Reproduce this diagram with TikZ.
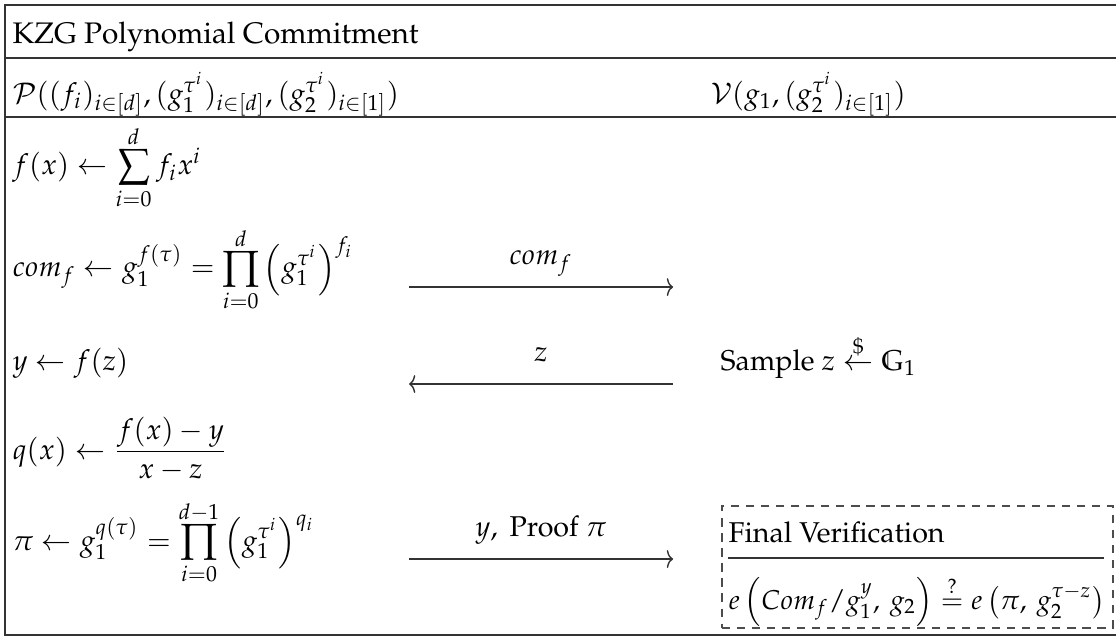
\documentclass[tikz,border=0pt]{standalone}
\usepackage[T1]{fontenc}
\usepackage{amsmath}
\usepackage{mathpazo}
\usetikzlibrary{arrows.meta}

\begin{document}
\begin{tikzpicture}[
    font=\fontsize{9.15pt}{11pt}\selectfont,
    % --- Frame and Rules ---
    rule/.style={line width=0.55pt, draw=black!80},
    % --- Protocol Steps ---
    row text/.style={anchor=base west, inner sep=0pt},
    % --- Messages ---
    msg arrow/.style={-{To[length=0.7mm, width=2mm]}, line width=0.45pt, draw=black!80},
    msg label/.style={midway, anchor=base, inner sep=0pt, yshift=0.25cm},
    % --- Verification Box ---
    check box/.style={draw=black!70, line width=0.5pt, dash pattern=on 2.6pt off 2.2pt,
        anchor=north west, inner sep=0pt}
]
    \useasboundingbox (0,0) rectangle (12.531,-7.153);

    % =========================================
    % 1. FRAME AND HEADER
    % =========================================
    \draw[rule] (12.531,-0.056) -- (0.056,-0.056) -- (0.056,-7.13) -- (12.531,-7.13);

    \node[row text, font=\fontsize{9.5pt}{11pt}\selectfont] (title) at (0.135,-0.483)
        {KZG Polynomial Commitment};
    \draw[rule] (0.056,-0.651) -- (12.531,-0.651);

    \node[row text] (prover) at (0.135,-1.157)
        {$\mathcal{P}((f_i)_{i\in[d]},(g_1^{\tau^i})_{i\in[d]},(g_2^{\tau^i})_{i\in[1]})$};
    \node[row text] (verifier) at (7.973,-1.157)
        {$\mathcal{V}(g_1,(g_2^{\tau^i})_{i\in[1]})$};
    \draw[rule] (0.056,-1.314) -- (12.531,-1.314);

    % =========================================
    % 2. PROVER STEPS
    % =========================================
    \node[row text] (fx) at (0.135,-1.965)
        {$\displaystyle f(x)\leftarrow\sum_{i=0}^{d} f_i x^i$};
    \node[row text] (com) at (0.135,-3.110)
        {$\displaystyle com_f\leftarrow g_1^{f(\tau)}=\prod_{i=0}^{d}\left(g_1^{\tau^i}\right)^{f_i}$};
    \node[row text] (yval) at (0.135,-4.155) {$y\leftarrow f(z)$};
    \node[row text] (qx) at (0.135,-5.154)
        {$\displaystyle q(x)\leftarrow\frac{f(x)-y}{x-z}$};
    \node[row text] (proof) at (0.135,-6.176)
        {$\displaystyle \pi\leftarrow g_1^{q(\tau)}=\prod_{i=0}^{d-1}\left(g_1^{\tau^i}\right)^{q_i}$};

    % =========================================
    % 3. MESSAGES
    % =========================================
    \coordinate (com send) at (4.593,-3.223);
    \coordinate (com recv) at (7.557,-3.223);
    \coordinate (z send) at (7.557,-4.312);
    \coordinate (z recv) at (4.593,-4.312);
    \coordinate (pi send) at (4.593,-6.277);
    \coordinate (pi recv) at (7.557,-6.277);

    \draw[msg arrow] (com send) -- (com recv) node[msg label] {$com_f$};
    \draw[msg arrow] (z send) -- (z recv) node[msg label] {$z$};
    \draw[msg arrow] (pi send) -- (pi recv) node[msg label] {$y,\ \text{Proof}~\pi$};

    % =========================================
    % 4. VERIFIER STEPS
    % =========================================
    \node[row text] (sample) at (8.085,-4.155)
        {Sample $z\stackrel{\$}{\leftarrow}\mathbb{G}_1$};

    \node[check box, minimum width=4.39cm, minimum height=1.37cm] (check) at (8.096,-5.671) {};
    \node[row text] (final) at (8.175,-6.086) {Final Verification};
    \draw[rule, line width=0.45pt] (8.175,-6.266) -- (12.397,-6.266);
    \node[row text, font=\fontsize{8.7pt}{11pt}\selectfont] (pairing) at (8.175,-6.839)
        {$e\left(Com_f/g_1^y,\: g_2\right)\stackrel{?}{=}e\left(\pi,\: g_2^{\tau-z}\right)$};

\end{tikzpicture}
\end{document}
